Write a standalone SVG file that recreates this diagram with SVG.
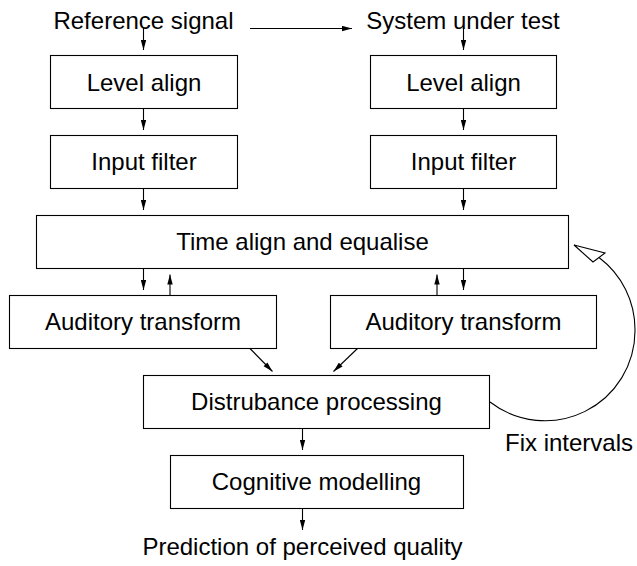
<svg xmlns="http://www.w3.org/2000/svg" width="637" height="566" viewBox="0 0 637 566">
  <defs>
    <style>
      .box { fill: #ffffff; stroke: #000000; stroke-width: 1.1; }
      .lbl { font-family: "Liberation Sans", Arial, sans-serif; font-size: 24px; fill: #000000; text-anchor: middle; }
      .free { font-family: "Liberation Sans", Arial, sans-serif; font-size: 24px; fill: #000000; }
      .conn { fill: none; stroke: #000000; stroke-width: 1.1; }
    </style>
    <marker id="head" markerUnits="userSpaceOnUse" viewBox="0 0 10 6" refX="10" refY="3" markerWidth="10" markerHeight="6" orient="auto">
      <path d="M0,0.3 L10,3 L0,5.7 z" fill="#000000"/>
    </marker>
  </defs>

  <rect width="637" height="566" fill="#ffffff"/>

  <!-- free-standing labels -->
  <g id="src-ref">
    <text class="lbl" x="143.5" y="29">Reference signal</text>
  </g>
  <g id="src-sut">
    <text class="lbl" x="463" y="29">System under test</text>
  </g>

  <!-- processing blocks -->
  <g id="level-align-ref">
    <rect class="box" x="50.5" y="55.5" width="187" height="53"/>
    <text class="lbl" x="144" y="90.5">Level align</text>
  </g>
  <g id="level-align-sut">
    <rect class="box" x="370.5" y="55.5" width="186" height="53"/>
    <text class="lbl" x="463.5" y="90.5">Level align</text>
  </g>
  <g id="input-filter-ref">
    <rect class="box" x="50.5" y="135.5" width="187" height="53"/>
    <text class="lbl" x="144" y="169.5">Input filter</text>
  </g>
  <g id="input-filter-sut">
    <rect class="box" x="370.5" y="135.5" width="186" height="53"/>
    <text class="lbl" x="463.5" y="169.5">Input filter</text>
  </g>
  <g id="time-align">
    <rect class="box" x="36.5" y="215.5" width="532" height="53"/>
    <text class="lbl" x="302.5" y="250">Time align and equalise</text>
  </g>
  <g id="auditory-ref">
    <rect class="box" x="9.5" y="295.5" width="267" height="53"/>
    <text class="lbl" x="143" y="330">Auditory transform</text>
  </g>
  <g id="auditory-sut">
    <rect class="box" x="330.5" y="295.5" width="266" height="53"/>
    <text class="lbl" x="463.5" y="330">Auditory transform</text>
  </g>
  <g id="disturbance">
    <rect class="box" x="143.5" y="375.5" width="346" height="53"/>
    <text class="lbl" x="316.5" y="410">Distrubance processing</text>
  </g>
  <g id="cognitive">
    <rect class="box" x="170.5" y="455.5" width="293" height="53"/>
    <text class="lbl" x="316.5" y="490">Cognitive modelling</text>
  </g>
  <g id="output">
    <text class="lbl" x="302.5" y="555">Prediction of perceived quality</text>
  </g>
  <g id="fix-label">
    <text class="free" x="505" y="451">Fix intervals</text>
  </g>

  <!-- connectors -->
  <g id="connectors">
    <line class="conn" x1="250" y1="28.5" x2="352" y2="28.5" marker-end="url(#head)"/>
    <line class="conn" x1="143.5" y1="28" x2="143.5" y2="50" marker-end="url(#head)"/>
    <line class="conn" x1="463.5" y1="28" x2="463.5" y2="50" marker-end="url(#head)"/>
    <line class="conn" x1="143.5" y1="108.5" x2="143.5" y2="130" marker-end="url(#head)"/>
    <line class="conn" x1="463.5" y1="108.5" x2="463.5" y2="130" marker-end="url(#head)"/>
    <line class="conn" x1="143.5" y1="188.5" x2="143.5" y2="210" marker-end="url(#head)"/>
    <line class="conn" x1="463.5" y1="188.5" x2="463.5" y2="210" marker-end="url(#head)"/>
    <line class="conn" x1="143.5" y1="268.5" x2="143.5" y2="290" marker-end="url(#head)"/>
    <line class="conn" x1="170" y1="295.5" x2="170" y2="274.5" marker-end="url(#head)"/>
    <line class="conn" x1="437" y1="295.5" x2="437" y2="274.5" marker-end="url(#head)"/>
    <line class="conn" x1="463.5" y1="268.5" x2="463.5" y2="290" marker-end="url(#head)"/>
    <line class="conn" x1="250" y1="348.5" x2="272.5" y2="371.5" marker-end="url(#head)"/>
    <line class="conn" x1="357.5" y1="348.5" x2="333.5" y2="371.5" marker-end="url(#head)"/>
    <line class="conn" x1="302.5" y1="428.5" x2="302.5" y2="450" marker-end="url(#head)"/>
    <line class="conn" x1="302.5" y1="508.5" x2="302.5" y2="530" marker-end="url(#head)"/>
    <!-- feedback loop back to time alignment -->
    <path class="conn" d="M490,402 A90,90 0 0 0 635,330 A90,90 0 0 0 599,257.5"/>
    <polygon points="574,245 593,262 605,253" fill="#ffffff" stroke="#000000" stroke-width="1.1" stroke-linejoin="miter"/>
  </g>
</svg>
